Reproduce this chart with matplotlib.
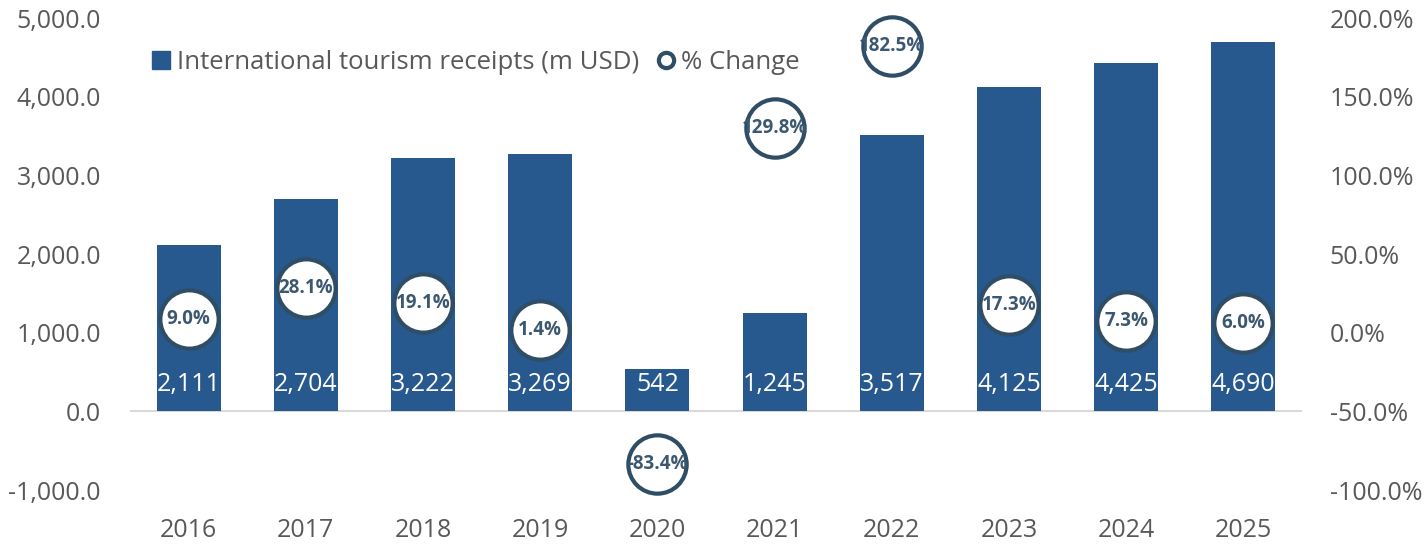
import matplotlib
matplotlib.use("Agg")
import matplotlib.pyplot as plt
from matplotlib.lines import Line2D
from matplotlib.ticker import FuncFormatter

years = ["2016", "2017", "2018", "2019", "2020", "2021", "2022", "2023", "2024", "2025"]
receipts = [2111, 2704, 3222, 3269, 542, 1245, 3517, 4125, 4425, 4690]
pct_change = [9.0, 28.1, 19.1, 1.4, -83.4, 129.8, 182.5, 17.3, 7.3, 6.0]

bar_color = "#27598F"
edge_color = "#2F4E66"
pct_text_color = "#3B5870"
tick_color = "#595959"

plt.rcParams['font.family'] = ['Open Sans', 'DejaVu Sans']

fig = plt.figure(figsize=(14.26, 5.45), dpi=100)
ax = fig.add_axes([0.0912, 0.1009, 0.8218, 0.866])
ax2 = ax.twinx()

x = list(range(len(years)))
ax.bar(x, receipts, width=0.545, color=bar_color, zorder=2)
for xi, v in zip(x, receipts):
    ax.text(xi, 340, f"{v:,}", ha="center", va="center", color="white", fontsize=18, zorder=3)

ax.set_xlim(-0.5, len(years) - 0.5)
ax.set_ylim(-1000, 5000)
ax.set_yticks(range(-1000, 5001, 1000))
ax.yaxis.set_major_formatter(FuncFormatter(lambda v, p: f"{v:,.1f}"))
ax.axhline(0, color="#D9D9D9", lw=1.5, zorder=1)
ax.set_xticks(x)
ax.set_xticklabels(years)

ax2.set_ylim(-100, 200)
ax2.set_yticks(range(-100, 201, 50))
ax2.yaxis.set_major_formatter(FuncFormatter(lambda v, p: f"{v:.1f}%"))
ax2.plot(x, pct_change, linestyle="none", marker="o", markersize=42,
         markerfacecolor="white", markeredgecolor=edge_color, markeredgewidth=3,
         zorder=4, clip_on=False)
for xi, v in zip(x, pct_change):
    ax2.text(xi, v, f"{v:.1f}%", ha="center", va="center", color=pct_text_color,
             fontsize=13.5, fontweight="bold", zorder=5, clip_on=False)

for a in (ax, ax2):
    for s in a.spines.values():
        s.set_visible(False)
    a.tick_params(length=0, labelsize=18, colors=tick_color)
ax.tick_params(axis="y", pad=21)
ax2.tick_params(axis="y", pad=20)
ax.tick_params(axis="x", pad=20)

handles = [
    Line2D([], [], linestyle="none", marker="s", markersize=13, color=bar_color),
    Line2D([], [], linestyle="none", marker="o", markersize=11, markerfacecolor="white",
           markeredgecolor=edge_color, markeredgewidth=3),
]
ax2.legend(handles, ["International tourism receipts (m USD)", "% Change"],
           loc="upper left", bbox_to_anchor=(-0.004, 0.982), frameon=False, ncol=2,
           fontsize=18.5, handletextpad=0.1, columnspacing=0.55, handlelength=1.0,
           labelcolor=tick_color)

fig.savefig("out.png", dpi=100)
